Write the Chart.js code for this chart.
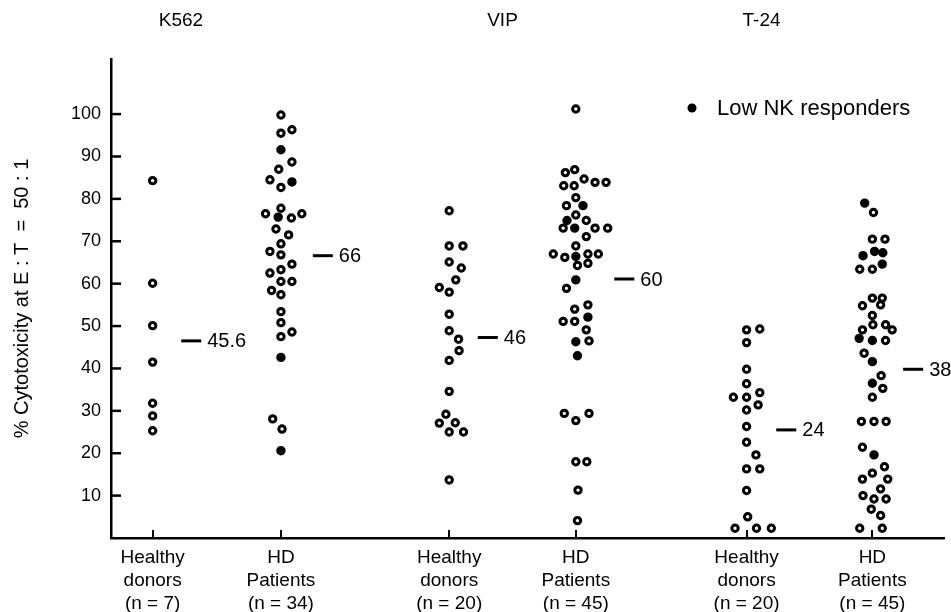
<!DOCTYPE html>
<html>
<head>
<meta charset="utf-8">
<script src="https://cdn.jsdelivr.net/npm/chart.js@4.4.1/dist/chart.umd.min.js"></script>
<style>
    html, body { margin: 0; padding: 0; background: #fff; }
    #wrap { width: 951px; height: 612px; position: relative; }
</style>
</head>
<body>
<div id="wrap"><canvas id="dotChart"></canvas></div>
<script>
// x axis groups
var groupLabels = [
    ["Healthy", "donors", "(n = 7)"],
    ["HD", "Patients", "(n = 34)"],
    ["Healthy", "donors", "(n = 20)"],
    ["HD", "Patients", "(n = 45)"],
    ["Healthy", "donors", "(n = 20)"],
    ["HD", "Patients", "(n = 45)"],
];
var groupPos = [0.5, 2.04, 4.06, 5.58, 7.63, 9.14];
var panelTitles = ["K562", "VIP", "T-24"];
var panelTitlePos = [0.84, 4.7, 7.81];

// median marks (printed value + where the dash sits)
var medianText = ["45.6", "66", "46", "60", "24", "38"];
var medianMark = [46.5, 66.6, 47.3, 61.1, 25.5, 39.8];
var medianGap = [2.6, 2.9, 2.6, 3.5, 2.7, 2.8];

// % cytotoxicity, one value per subject; slot = sideways position in dot widths
var k562Healthy = [84.3, 60.1, 50.1, 41.5, 31.8, 28.8, 25.3];
var k562HealthySlot = [0, 0, 0, 0, 0, 0, 0];

var k562Patients = [99.8, 95.5, 96.3, 91.6, 88.7, 87.0, 84.5, 84.0, 82.7, 77.8, 76.5, 76.5, 75.7, 75.5, 72.9, 71.5, 69.4,
    67.6, 66.8, 64.6, 62.5, 63.3, 60.5, 60.5, 58.4, 57.4, 53.4, 50.8, 47.5, 48.6, 42.6, 28.1, 25.7, 20.6];
var k562PatientsSlot = [0, 0, 1, 0, 1, -0.2, -1, 1, 0, 0, -1.4, 1.9, -0.25, 0.95, -0.45, 0.7, 0,
    -1, 0, 1, -1, 0, 0, 1, -0.85, 0, 0, 0, 0, 1, 0, -0.75, 0.1, 0];
var k562PatientsLow = [0, 0, 0, 1, 0, 0, 0, 1, 0, 0, 0, 0, 1, 0, 0, 0, 0,
    0, 0, 0, 0, 0, 0, 0, 0, 0, 0, 0, 0, 0, 1, 0, 0, 1];

var vipHealthy = [77.2, 68.9, 68.9, 65.1, 63.7, 60.9, 59.1, 58.0, 52.8, 48.9, 46.9, 44.2, 41.9, 34.6, 29.2, 27.1, 27.2, 25.0, 25.0, 13.7];
var vipHealthySlot = [0, 0, 1.25, 0, 1.1, 0.6, -0.9, 0, 0, 0, 0.85, 0.9, 0, 0, -0.3, -0.9, 0.55, 0, 1.3, 0];

var vipPatients = [101.2, 86.2, 86.9, 84.7, 83.1, 83.1, 83.9, 83.9, 80.3, 78.4, 78.4, 76.2, 74.9, 74.9, 73.1, 73.1, 73.1, 73.1,
    71.1, 68.9, 67.0, 66.2, 66.4, 67.0, 67.0, 64.3, 64.8, 60.9, 58.9, 55.0, 54.0, 52.1, 51.1, 51.1, 49.1, 46.3, 46.5, 43.0,
    29.4, 29.4, 27.7, 18.0, 18.0, 11.3, 4.1];
var vipPatientsSlot = [0, -0.95, -0.1, 0.75, -1.1, -0.15, 1.75, 2.75, 0, -0.85, 0.65, 0, -0.8, 0.95, -1.15, -0.1, 1.75, 2.9,
    0.95, 0, -2.05, -1, 0, 1.1, 2.05, 0.15, 1.1, 0, -0.85, 1.1, -0.1, 1.1, -1.15, -0.1, 0.95, 0, 1.2, 0.15,
    -1.05, 1.2, 0, 0, 1, 0.2, 0.15];
var vipPatientsLow = [0, 0, 0, 0, 0, 0, 0, 0, 0, 0, 1, 0, 1, 0, 0, 1, 0, 0,
    0, 0, 0, 0, 1, 0, 0, 0, 0, 1, 0, 0, 0, 1, 0, 0, 0, 1, 0, 1,
    0, 0, 0, 0, 0, 0, 0];

var t24Healthy = [49.1, 49.3, 46.1, 39.8, 36.4, 33.2, 33.2, 34.3, 31.4, 30.2, 26.3, 22.6, 19.6, 16.3, 16.3, 11.2, 5.0, 2.3, 2.3, 2.3];
var t24HealthySlot = [0, 1.2, 0, 0, 0, -1.2, 0, 1.2, 1.05, 0, 0, 0, 0.85, 0, 1.2, 0, 0.1, -1.05, 0.9, 2.25];

var t24Patients = [79.0, 76.8, 70.5, 70.5, 66.6, 67.6, 67.3, 64.6, 63.4, 63.4, 56.6, 56.6, 54.8, 55.0, 52.5, 50.3, 50.3, 49.1,
    49.1, 47.1, 46.6, 46.6, 43.6, 41.6, 38.3, 36.5, 35.3, 33.2, 27.5, 27.5, 27.5, 21.4, 19.6, 16.8, 15.3, 13.9, 13.9,
    11.6, 10.0, 9.2, 9.2, 6.8, 5.3, 2.3, 2.3];
var t24PatientsSlot = [-0.7, 0.1, 0, 1.15, -0.85, 0.2, 0.95, 0.9, -1.15, 0, 0, 0.9, -0.9, 0.75, 0, 0.05, 1.2, -0.9,
    1.8, -1.2, 0, 1.2, -0.75, 0, 0.8, 0, 0.95, 0, -1, 0.15, 1.25, -0.9, 0.15, 1.1, 0, -0.9, 1.4,
    0.75, -0.85, 0.15, 1.25, -0.1, 0.75, -1.15, 0.9];
var t24PatientsLow = [1, 0, 0, 0, 1, 1, 1, 1, 0, 0, 0, 0, 0, 0, 0, 0, 0, 0,
    0, 1, 1, 0, 0, 1, 0, 1, 0, 0, 0, 0, 0, 0, 1, 0, 0, 0, 0,
    0, 0, 0, 0, 0, 0, 0, 0];

var FONT = "'Liberation Sans', Arial, Helvetica, sans-serif";
var SLOT = 0.132; // one dot width in x units

var groups = [
    { vals: k562Healthy, slots: k562HealthySlot, low: null },
    { vals: k562Patients, slots: k562PatientsSlot, low: k562PatientsLow },
    { vals: vipHealthy, slots: vipHealthySlot, low: null },
    { vals: vipPatients, slots: vipPatientsSlot, low: vipPatientsLow },
    { vals: t24Healthy, slots: t24HealthySlot, low: null },
    { vals: t24Patients, slots: t24PatientsSlot, low: t24PatientsLow },
];

var openPts = [];
var lowPts = [];
groups.forEach(function (g, i) {
    g.vals.forEach(function (v, j) {
        var p = { x: groupPos[i] + g.slots[j] * SLOT, y: v };
        if (g.low && g.low[j]) {
            lowPts.push(p);
        } else {
            openPts.push(p);
        }
    });
});

// ticks pointing inward, median dashes, panel titles and the legend
var extras = {
    id: "extras",
    afterDatasetsDraw: function (chart) {
        var ctx = chart.ctx;
        var xs = chart.scales.x;
        var ys = chart.scales.y;
        var area = chart.chartArea;
        ctx.save();
        ctx.strokeStyle = "#000";
        ctx.fillStyle = "#000";

        ctx.lineWidth = 2.5;
        for (var v = 10; v <= 100; v += 10) {
            var py = ys.getPixelForValue(v);
            ctx.beginPath();
            ctx.moveTo(area.left, py);
            ctx.lineTo(area.left + 10, py);
            ctx.stroke();
        }
        ctx.lineWidth = 2;
        groupPos.forEach(function (gp) {
            var px = Math.round(xs.getPixelForValue(gp));
            ctx.beginPath();
            ctx.moveTo(px, area.bottom);
            ctx.lineTo(px, area.bottom - 8);
            ctx.stroke();
        });

        ctx.lineWidth = 3;
        ctx.font = "20px " + FONT;
        ctx.textBaseline = "middle";
        ctx.textAlign = "left";
        medianMark.forEach(function (m, i) {
            var x0 = xs.getPixelForValue(groupPos[i] + medianGap[i] * SLOT);
            var y0 = ys.getPixelForValue(m);
            ctx.beginPath();
            ctx.moveTo(x0, y0);
            ctx.lineTo(x0 + 20, y0);
            ctx.stroke();
            ctx.fillText(medianText[i], x0 + 26, y0 + 1);
        });

        ctx.font = "19px " + FONT;
        ctx.textAlign = "center";
        panelTitles.forEach(function (t, i) {
            ctx.fillText(t, xs.getPixelForValue(panelTitlePos[i]), 21);
        });

        var lx = area.right - 252;
        var ly = area.top + 49;
        ctx.beginPath();
        ctx.arc(lx, ly, 4.5, 0, Math.PI * 2);
        ctx.fill();
        ctx.font = "22px " + FONT;
        ctx.textAlign = "left";
        ctx.fillText(chart.data.datasets[1].label, lx + 25, ly + 1);
        ctx.restore();
    },
};

var ctx = document.getElementById("dotChart");
var myChart = new Chart(ctx, {
    type: "scatter",
    data: {
        datasets: [
            {
                label: "Normal responders",
                data: openPts,
                pointRadius: 3.2,
                pointBorderWidth: 3,
                pointBackgroundColor: "#fff",
                pointBorderColor: "#000",
            },
            {
                label: "Low NK responders",
                data: lowPts,
                pointRadius: 3.2,
                pointBorderWidth: 3,
                pointBackgroundColor: "#000",
                pointBorderColor: "#000",
            },
        ],
    },
    options: {
        responsive: true,
        maintainAspectRatio: false,
        animation: false,
        layout: { padding: { top: 59, right: 6, left: 0, bottom: 0 } },
        plugins: {
            legend: { display: false },
            tooltip: { enabled: false },
        },
        scales: {
            x: {
                type: "linear",
                min: 0,
                max: 10,
                afterBuildTicks: function (axis) {
                    axis.ticks = groupPos.map(function (p) {
                        return { value: p };
                    });
                },
                afterFit: function (axis) {
                    axis.height = 74;
                },
                grid: { display: false, drawTicks: false },
                border: { display: true, color: "#000", width: 2.5 },
                ticks: {
                    color: "#000",
                    padding: 8,
                    maxRotation: 0,
                    autoSkip: false,
                    font: { family: FONT, size: 19, lineHeight: 1.22 },
                    callback: function (value, index) {
                        return groupLabels[index];
                    },
                },
            },
            y: {
                min: 0,
                max: 113,
                afterFit: function (axis) {
                    axis.width = 111;
                },
                grid: { display: false, drawTicks: false },
                border: { display: true, color: "#000", width: 2.5 },
                ticks: {
                    stepSize: 10,
                    padding: 10,
                    color: "#000",
                    font: { family: FONT, size: 18 },
                    callback: function (v) {
                        return v > 0 && v <= 100 ? v : "";
                    },
                },
                title: {
                    display: true,
                    text: "% Cytotoxicity at E : T  =  50 : 1",
                    color: "#000",
                    font: { family: FONT, size: 20 },
                    padding: { top: 10, bottom: 0 },
                },
            },
        },
    },
    plugins: [extras],
});
</script>
</body>
</html>
